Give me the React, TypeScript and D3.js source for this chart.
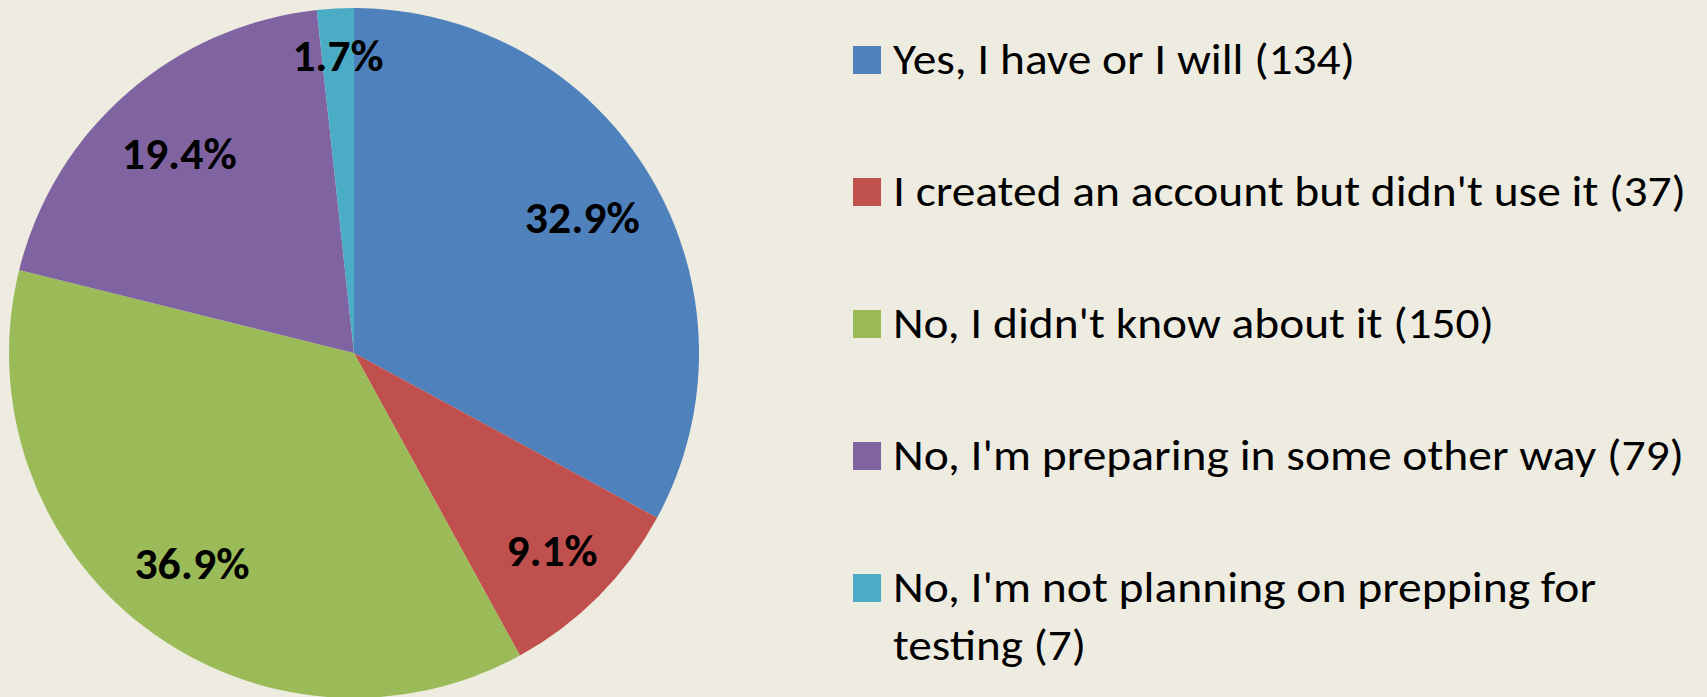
import React from "react";
import * as d3 from "d3";

const categories = [
  "Yes, I have or I will (134)",
  "I created an account but didn't use it (37)",
  "No, I didn't know about it (150)",
  "No, I'm preparing in some other way (79)",
  "No, I'm not planning on prepping for testing (7)",
];
const counts = [134, 37, 150, 79, 7];
const colors = ["#4F81BD", "#C0504D", "#9BBB59", "#8064A2", "#4BACC6"];
// legend lines (wrapped as in the reference)
const legendLines = [
  ["Yes, I have or I will (134)"],
  ["I created an account but didn't use it (37)"],
  ["No, I didn't know about it (150)"],
  ["No, I'm preparing in some other way (79)"],
  ["No, I'm not planning on prepping for", "testing (7)"],
];

const W = 1707;
const H = 697;
const BG = "#EEECE1";
const FONT = "Carlito, Calibri, Lato, 'Open Sans', sans-serif";

export default function App() {
  const cx = 354;
  const cy = 353;
  const R = 345;
  const total = d3.sum(counts);
  const pie = d3
    .pie<number>()
    .sort(null)
    .value((d) => d)
    .startAngle(0)
    .endAngle(2 * Math.PI);
  const arcs = pie(counts);
  const arcGen = d3.arc<d3.PieArcDatum<number>>().innerRadius(0).outerRadius(R);
  const fmt = d3.format(".1f");

  // label radius depends on slice size (small slices pushed outward like Excel best-fit)
  const labelR = (a: d3.PieArcDatum<number>) => {
    const frac = (a.endAngle - a.startAngle) / (2 * Math.PI);
    if (frac < 0.05) return R * 0.865;
    if (frac < 0.12) return R * 0.81;
    return R * 0.77;
  };
  const labelWidth = (s: string) => (s.length === 4 ? 91 : 115);

  // legend layout
  const legX = 853;
  const legTextX = 893;
  const legBase0 = 74;
  const legStep = 132;
  const lineH = 58;
  const sq = 28;
  const legWidths = [
    [462],
    [793],
    [601],
    [791],
    [703, 193],
  ];

  return (
    <svg
      width={W}
      height={H}
      style={{ position: "absolute", left: 0, top: 0, display: "block" }}
    >
      <rect x={0} y={0} width={W} height={H} fill={BG} />
      <g transform={`translate(${cx},${cy})`}>
        {arcs.map((a, i) => (
          <path key={i} d={arcGen(a) || ""} fill={colors[i]} />
        ))}
        {arcs.map((a, i) => {
          const mid = (a.startAngle + a.endAngle) / 2;
          const r = labelR(a);
          const x = r * Math.sin(mid);
          const y = -r * Math.cos(mid);
          const txt = fmt((counts[i] / total) * 100) + "%";
          return (
            <text
              key={"l" + i}
              x={x}
              y={y + 16}
              textAnchor="middle"
              fontFamily={FONT}
              fontWeight="bold"
              fontSize={44}
              fill="#000"
              textLength={labelWidth(txt)}
              lengthAdjust="spacingAndGlyphs"
            >
              {txt}
            </text>
          );
        })}
      </g>
      <g>
        {categories.map((c, i) => {
          const base = legBase0 + i * legStep;
          return (
            <g key={c}>
              <rect x={legX} y={base - sq} width={sq} height={sq} fill={colors[i]} />
              {legendLines[i].map((ln, j) => (
                <text
                  key={j}
                  x={legTextX}
                  y={base + j * lineH}
                  fontFamily={FONT}
                  fontSize={43}
                  fill="#000"
                  textLength={legWidths[i][j]}
                  lengthAdjust="spacingAndGlyphs"
                >
                  {ln}
                </text>
              ))}
            </g>
          );
        })}
      </g>
    </svg>
  );
}
